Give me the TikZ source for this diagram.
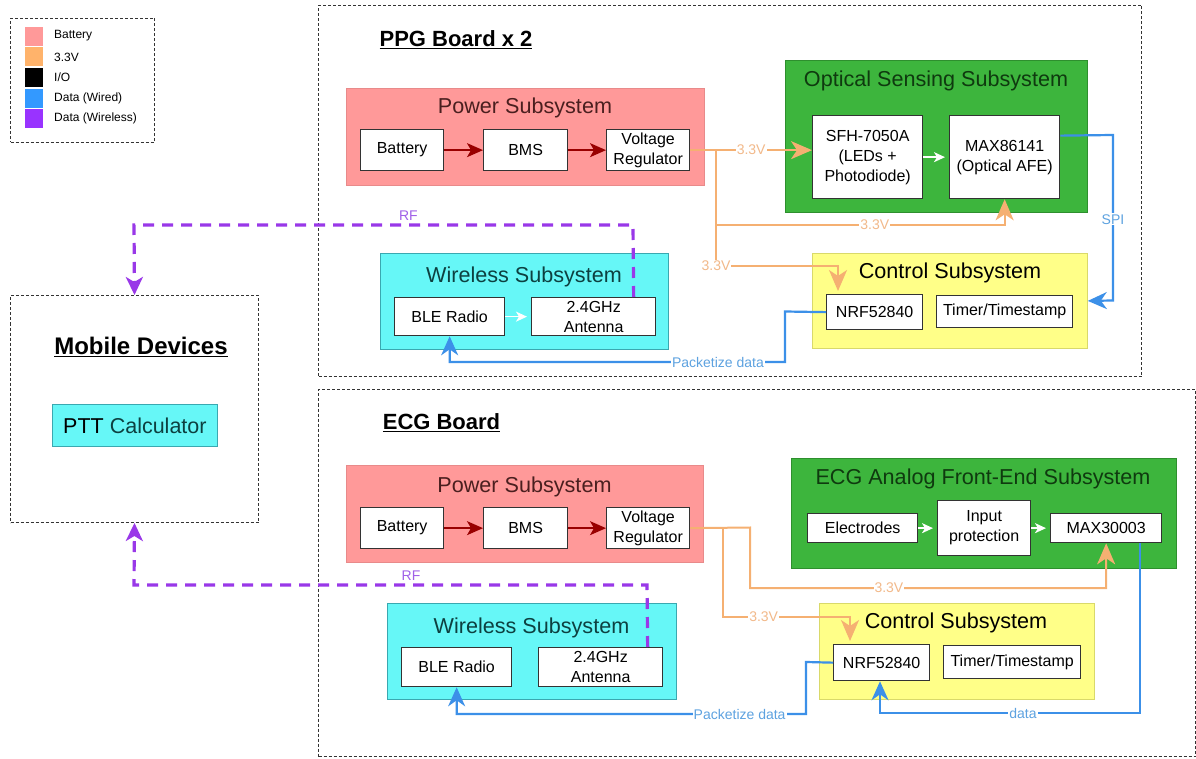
\documentclass[tikz,border=0pt]{standalone}
\usepackage{fontspec}
\setmainfont{Liberation Sans}
\usetikzlibrary{arrows.meta}
\definecolor{pinkfill}{HTML}{FF9999}
\definecolor{pinkdraw}{HTML}{E88A8A}
\definecolor{pinktext}{HTML}{4A1F1F}
\definecolor{greenfill}{HTML}{3DB53D}
\definecolor{greendraw}{HTML}{2E8F2E}
\definecolor{greentext}{HTML}{0F3A0F}
\definecolor{yelfill}{HTML}{FFFF88}
\definecolor{yeldraw}{HTML}{D9D96A}
\definecolor{cyanfill}{HTML}{66F7F7}
\definecolor{cyandraw}{HTML}{3AA8B0}
\definecolor{cyantext}{HTML}{0D4040}
\definecolor{orangeline}{HTML}{F5B072}
\definecolor{orangelbl}{HTML}{F2B98A}
\definecolor{blueline}{HTML}{3C90E8}
\definecolor{bluelbl}{HTML}{5DA2E0}
\definecolor{purpleline}{HTML}{9938E8}
\definecolor{purplelbl}{HTML}{A060E8}
\definecolor{darkred}{HTML}{990000}
\definecolor{legpink}{HTML}{FF9999}
\definecolor{legorange}{HTML}{FFB36B}
\definecolor{legblue}{HTML}{3399FF}
\definecolor{legpurple}{HTML}{9933FF}
\definecolor{framegray}{HTML}{333333}
\tikzset{
  frame/.style={draw=framegray, line width=1pt, dash pattern=on 3pt off 2pt, anchor=north west, inner sep=0},
  sub/.style={line width=0.8pt, anchor=north west, inner sep=0},
  blk/.style={draw=black!80, fill=white, line width=1.3pt, inner sep=0, anchor=north west, align=center, font=\fontsize{16}{20}\selectfont},
  ttl/.style={font=\fontsize{21.6}{24}\selectfont, inner sep=0},
  brd/.style={font=\bfseries\fontsize{22}{26}\selectfont, inner sep=0},
  swatch/.style={anchor=north west, inner sep=0, minimum width=18, minimum height=19},
  legtxt/.style={anchor=west, inner sep=0, font=\fontsize{12}{14}\selectfont},
  redarr/.style={draw=darkred, line width=1.6pt, -{Stealth[length=16pt,width=14pt,inset=4pt]}},
  whitearr/.style={draw=white, line width=1.6pt, -{Stealth[length=11pt,width=10pt,inset=3pt]}, shorten >=4pt},
  oline/.style={draw=orangeline, line width=2pt},
  otip/.style={-{Stealth[length=21pt,width=18pt,inset=6pt]}},
  bline/.style={draw=blueline, line width=2.2pt},
  btip/.style={-{Stealth[length=19pt,width=17pt,inset=6pt]}},
  pline/.style={draw=purpleline, line width=3.2pt, dash pattern=on 11pt off 8pt, -{Stealth[length=18pt,width=17pt,inset=5pt]}},
  olbl/.style={fill=white, inner sep=1pt, text=orangelbl, font=\fontsize{14}{16}\selectfont},
  blbl/.style={fill=white, inner sep=1pt, text=bluelbl, font=\fontsize{14}{16}\selectfont},
  plbl/.style={inner sep=1pt, text=purplelbl, font=\fontsize{14}{16}\selectfont},
}
\begin{document}
\begin{tikzpicture}[x=1pt,y=-1pt]
\useasboundingbox (0,0) rectangle (1196,759);
\fill[white] (0,0) rectangle (1196,759);

% Legend
\node[frame, minimum width=144, minimum height=124] (legend) at (10,18) {};
\node[swatch, fill=legpink] (lg1) at (25,27) {};
\node[swatch, fill=legorange] (lg2) at (25,47) {};
\node[swatch, fill=black] (lg3) at (25,68) {};
\node[swatch, fill=legblue] (lg4) at (25,89) {};
\node[swatch, fill=legpurple] (lg5) at (25,109) {};
\node[legtxt] (lt1) at (54,36) {Battery};
\node[legtxt] (lt2) at (54,57) {3.3V};
\node[legtxt] (lt3) at (54,77) {I/O};
\node[legtxt] (lt4) at (54,98) {Data (Wired)};
\node[legtxt] (lt5) at (54,118) {Data (Wireless)};

% Frames
\node[frame, minimum width=823, minimum height=371] (ppgframe) at (318,5) {};
\node[frame, minimum width=877, minimum height=367] (ecgframe) at (318,389) {};
\node[frame, minimum width=248, minimum height=227] (mob) at (10,295) {};

\node[brd] (ppgtitle) at (456,40) {\underline{PPG Board x 2}};
\node[brd] (ecgtitle) at (441.5,423) {\underline{ECG Board}};
\node[font=\bfseries\fontsize{24}{28}\selectfont, inner sep=0] (mobtitle) at (141,347) {\underline{Mobile Devices}};
\node[sub, draw=cyandraw, fill=cyanfill, minimum width=165, minimum height=42, font=\fontsize{21.5}{24}\selectfont] (ptt) at (52,404) {PTT \textcolor{cyantext}{Calculator}};

% ---------------- PPG board ----------------
\node[sub, draw=pinkdraw, fill=pinkfill, minimum width=358, minimum height=97] (ppow) at (346,88) {};
\node[ttl, text=pinktext] (ppowt) at (525,108) {Power Subsystem};
\node[blk, minimum width=83, minimum height=41] (pbat) at (360,129) {Battery};
\node[blk, minimum width=84, minimum height=41] (pbms) at (483,129) {BMS};
\node[blk, minimum width=83, minimum height=41] (preg) at (606,129) {Voltage\\Regulator};

\node[sub, draw=greendraw, fill=greenfill, minimum width=302, minimum height=152] (popt) at (785,60) {};
\node[ttl, text=greentext] (popttl) at (936,81) {Optical Sensing Subsystem};
\node[blk, minimum width=110, minimum height=83] (psfh) at (812,115) {SFH-7050A\\(LEDs +\\Photodiode)};
\node[blk, minimum width=110, minimum height=83] (pmax) at (949,115) {MAX86141\\(Optical AFE)};

\node[sub, draw=yeldraw, fill=yelfill, minimum width=275, minimum height=95] (pctl) at (812,253) {};
\node[ttl] (pctlt) at (950,273) {Control Subsystem};
\node[blk, minimum width=96, minimum height=35] (pnrf) at (826,294) {NRF52840};
\node[blk, minimum width=136, minimum height=32] (ptim) at (936,295) {Timer/Timestamp};

\node[sub, draw=cyandraw, fill=cyanfill, minimum width=288, minimum height=96] (pwl) at (380,253) {};
\node[ttl, text=cyantext] (pwlt) at (524,277) {Wireless Subsystem};
\node[blk, minimum width=110, minimum height=38] (pble) at (394,297) {BLE Radio};
\node[blk, minimum width=124, minimum height=38] (pant) at (531,297) {2.4GHz\\Antenna};

\draw[redarr] (pbat) -- (pbms);
\draw[redarr] (pbms) -- (preg);
\draw[whitearr] (psfh) -- (pmax);
\draw[whitearr] (pble) -- (pant);

\coordinate (pj1) at (716,149.5);
\draw[oline, otip] (preg.east) -- node[olbl]{3.3V} (psfh.west |- preg.east);
\draw[oline, otip] (pj1) -- (716,225) -- node[olbl, pos=0.55]{3.3V} (pmax.south |- 0,225) -- (pmax.south);
\draw[oline, otip, shorten >=3pt] (pj1) -- (716,266) node[olbl]{3.3V} -- (838,266) -- (pnrf.north -| 838,0);

\draw[bline, btip] ([yshift=21.5pt]pmax.east) -- (1113,135) -- node[blbl, pos=0.51]{SPI} (1113,300.5) -- (pctl.east);
\draw[bline, btip] (pnrf.west) -- (785,311.5) -- (785,362) -- node[blbl, pos=0.2]{Packetize data} (pble.south |- 0,362) -- (pble.south);

\draw[pline] ([xshift=40pt]pant.north) -- (633,225) -- node[plbl, pos=0.45, above=2pt]{RF} (134,225) -- (mob.north);

% ---------------- ECG board ----------------
\node[sub, draw=pinkdraw, fill=pinkfill, minimum width=357, minimum height=97] (epow) at (346,465) {};
\node[ttl, text=pinktext] (epowt) at (524.5,487) {Power Subsystem};
\node[blk, minimum width=83, minimum height=41] (ebat) at (360,507) {Battery};
\node[blk, minimum width=84, minimum height=41] (ebms) at (483,507) {BMS};
\node[blk, minimum width=83, minimum height=41] (ereg) at (606,507) {Voltage\\Regulator};

\node[sub, draw=greendraw, fill=greenfill, minimum width=385, minimum height=110] (eafe) at (791,458) {};
\node[ttl, text=greentext] (eafet) at (983,479) {ECG Analog Front-End Subsystem};
\node[blk, minimum width=110, minimum height=29] (eel) at (807,513) {Electrodes};
\node[blk, minimum width=93, minimum height=55] (einp) at (937,500) {Input\\protection};
\node[blk, minimum width=111, minimum height=29] (emax) at (1050,513) {MAX30003};

\node[sub, draw=yeldraw, fill=yelfill, minimum width=275, minimum height=96] (ectl) at (819,603) {};
\node[ttl] (ectlt) at (956,623) {Control Subsystem};
\node[blk, minimum width=96, minimum height=36] (enrf) at (833,644) {NRF52840};
\node[blk, minimum width=137, minimum height=33] (etim) at (943,645) {Timer/Timestamp};

\node[sub, draw=cyandraw, fill=cyanfill, minimum width=289, minimum height=96] (ewl) at (387,603) {};
\node[ttl, text=cyantext] (ewlt) at (531.5,628) {Wireless Subsystem};
\node[blk, minimum width=110, minimum height=39] (eble) at (401,647) {BLE Radio};
\node[blk, minimum width=124, minimum height=39] (eant) at (538,647) {2.4GHz\\Antenna};

\draw[redarr] (ebat) -- (ebms);
\draw[redarr] (ebms) -- (ereg);
\draw[whitearr] (eel) -- (einp);
\draw[whitearr] (einp) -- (emax);

\coordinate (ej1) at (723,527.5);
\draw[oline, otip] (ereg.east) -- (750,527.5) -- (750,588) -- node[olbl, pos=0.39]{3.3V} (emax.south |- 0,588) -- (emax.south);
\draw[oline, otip, shorten >=3pt] (ej1) -- (723,617) -- node[olbl, pos=0.32]{3.3V} (850,617) -- (enrf.north -| 850,0);

\draw[bline, btip] (emax.south -| 1140,0) -- (1140,713) -- node[blbl, pos=0.45]{data} (880,713) -- (enrf.south -| 880,0);
\draw[bline, btip] (enrf.west) -- (806,662) -- (806,714) -- node[blbl, pos=0.19]{Packetize data} (eble.south |- 0,714) -- (eble.south);

\draw[pline] ([xshift=47pt]eant.north) -- (647,585) -- node[plbl, pos=0.46, above=2pt]{RF} (134,585) -- (mob.south);
\end{tikzpicture}
\end{document}
